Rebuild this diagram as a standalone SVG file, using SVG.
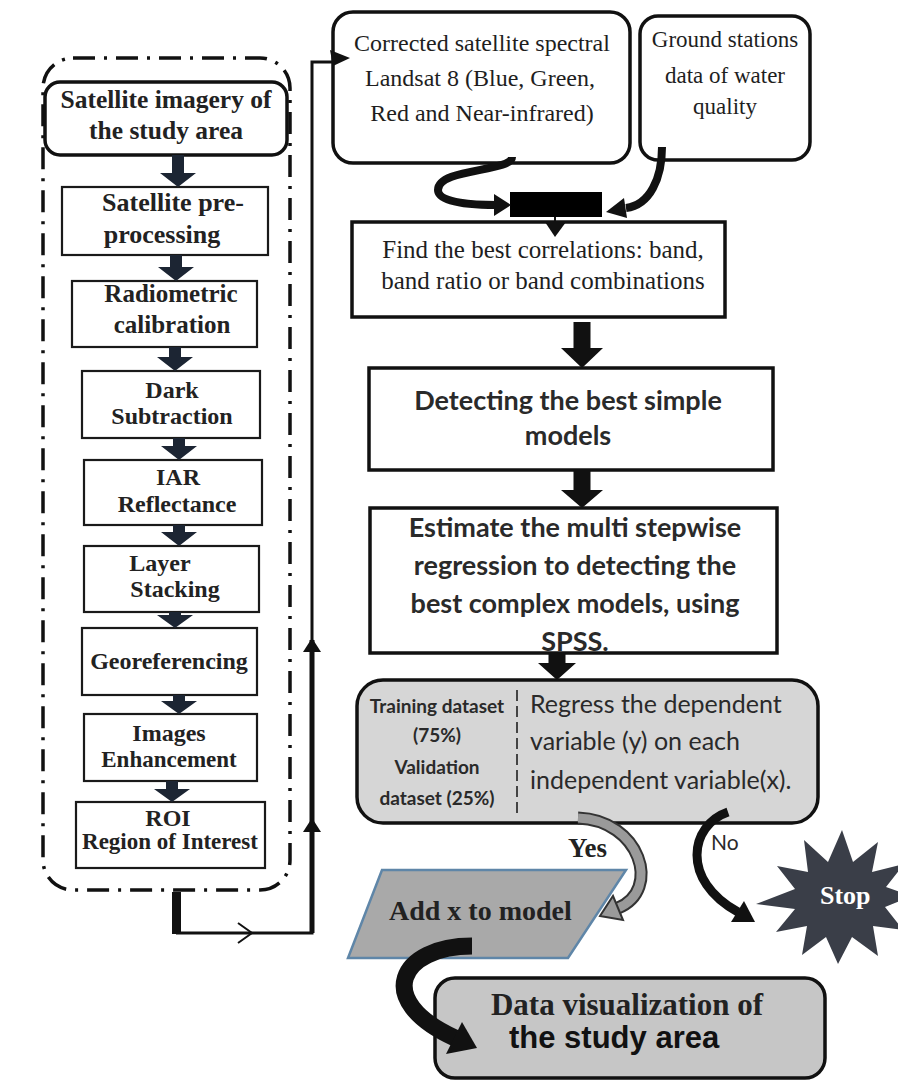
<svg xmlns="http://www.w3.org/2000/svg" width="898" height="1081" viewBox="0 0 898 1081">
<style>
.serif{font-family:"Liberation Serif","Times New Roman",serif;fill:#1e1e1e}
.sb{font-family:"Liberation Serif","Times New Roman",serif;font-weight:bold;fill:#222}
.cal{font-family:Lato,"Open Sans",sans-serif;fill:#2a2a2a}
.box{fill:#fff;stroke:#1a1a1a;stroke-width:2.2}
.boxt{fill:#fff;stroke:#111;stroke-width:3.5}
.narrow{fill:#1c2533}
.blk{fill:#111}
.thick{fill:none;stroke:#111;stroke-linecap:butt}
</style>
<rect width="898" height="1081" fill="#fff"/>

<g id="container">
<rect x="43" y="58" width="247" height="832" rx="30" fill="none" stroke="#111" stroke-width="3.5" stroke-dasharray="22 9 3 9"/>
</g>

<g id="n-satellite-imagery">
<rect x="45" y="82" width="242" height="73" rx="15" class="boxt"/>
<text class="sb" font-size="25.5" text-anchor="middle" x="166" y="108">Satellite imagery of</text>
<text class="sb" font-size="25.5" text-anchor="middle" x="166" y="139">the study area</text>
</g>
<g id="n-preprocessing">
<rect x="62" y="187" width="206" height="68" class="box"/>
<text class="sb" font-size="26" text-anchor="middle" x="173" y="211">Satellite pre-</text>
<text class="sb" font-size="26" text-anchor="middle" x="162" y="243">processing</text>
</g>
<g id="n-radiometric">
<rect x="72" y="281" width="185" height="66" class="box"/>
<text class="sb" font-size="25" text-anchor="middle" x="171" y="302">Radiometric</text>
<text class="sb" font-size="25" text-anchor="middle" x="172" y="333">calibration</text>
</g>
<g id="n-dark">
<rect x="82" y="371" width="178" height="67" class="box"/>
<text class="sb" font-size="24" text-anchor="middle" x="172" y="398">Dark</text>
<text class="sb" font-size="24" text-anchor="middle" x="172" y="424">Subtraction</text>
</g>
<g id="n-iar">
<rect x="84" y="460" width="178" height="65" class="box"/>
<text class="sb" font-size="24" text-anchor="middle" x="178" y="485">IAR</text>
<text class="sb" font-size="24" text-anchor="middle" x="177" y="512">Reflectance</text>
</g>
<g id="n-layer">
<rect x="84" y="546" width="175" height="66" class="box"/>
<text class="sb" font-size="24" text-anchor="middle" x="160" y="571">Layer</text>
<text class="sb" font-size="24" text-anchor="middle" x="175" y="597">Stacking</text>
</g>
<g id="n-georef">
<rect x="82" y="628" width="175" height="67" class="box"/>
<text class="sb" font-size="24" text-anchor="middle" x="169" y="669">Georeferencing</text>
</g>
<g id="n-enhance">
<rect x="84" y="714" width="173" height="67" class="box"/>
<text class="sb" font-size="24" text-anchor="middle" x="169" y="741">Images</text>
<text class="sb" font-size="23" text-anchor="middle" x="169" y="767">Enhancement</text>
</g>
<g id="n-roi">
<rect x="76" y="802" width="189" height="66" class="box"/>
<text class="sb" font-size="24" text-anchor="middle" x="168" y="826">ROI</text>
<text class="sb" font-size="23" text-anchor="middle" x="170" y="849">Region of Interest</text>
</g>

<g id="n-corrected">
<rect x="333" y="12" width="297" height="151" rx="20" class="boxt"/>
<text class="serif" font-size="24" text-anchor="middle" x="482" y="51">Corrected satellite spectral</text>
<text class="serif" font-size="24" text-anchor="middle" x="480" y="86">Landsat 8 (Blue, Green,</text>
<text class="serif" font-size="24" text-anchor="middle" x="482" y="121">Red and Near-infrared)</text>
</g>
<g id="n-ground">
<rect x="640" y="16" width="170" height="144" rx="18" class="boxt"/>
<text class="serif" font-size="23" text-anchor="middle" x="725" y="47">Ground stations</text>
<text class="serif" font-size="23" text-anchor="middle" x="725" y="83">data of water</text>
<text class="serif" font-size="23" text-anchor="middle" x="725" y="114">quality</text>
</g>
<g id="n-junction">
<rect x="510" y="192" width="92" height="25" fill="#000"/>
</g>
<g id="n-correlations">
<rect x="352" y="222" width="373" height="95" class="boxt"/>
<text class="serif" font-size="25" text-anchor="middle" x="543" y="258">Find the best correlations: band,</text>
<text class="serif" font-size="25" text-anchor="middle" x="543" y="289">band ratio or band combinations</text>
</g>
<g id="n-simple">
<rect x="369" y="368" width="404" height="102" class="boxt"/>
<text class="cal" font-weight="bold" font-size="27" text-anchor="middle" x="568" y="410">Detecting the best simple</text>
<text class="cal" font-weight="bold" font-size="27" text-anchor="middle" x="568" y="445">models</text>
</g>
<g id="n-stepwise">
<rect x="370" y="508" width="407" height="145" class="boxt"/>
<text class="cal" font-weight="bold" font-size="27" text-anchor="middle" x="575" y="537">Estimate the multi stepwise</text>
<text class="cal" font-weight="bold" font-size="27" text-anchor="middle" x="575" y="575">regression to detecting the</text>
<text class="cal" font-weight="bold" font-size="27" text-anchor="middle" x="575" y="613">best complex models, using</text>
<text class="cal" font-weight="bold" font-size="27" text-anchor="middle" x="575" y="651">SPSS.</text>
</g>
<g id="n-regress">
<rect x="357" y="680" width="461" height="143" rx="26" fill="#d6d6d6" stroke="#111" stroke-width="3.5"/>
<line x1="517" y1="690" x2="517" y2="815" stroke="#444" stroke-width="2" stroke-dasharray="11 5"/>
<text class="cal" font-weight="bold" font-size="19" text-anchor="middle" x="437" y="713">Training dataset</text>
<text class="cal" font-weight="bold" font-size="19" text-anchor="middle" x="437" y="742">(75%)</text>
<text class="cal" font-weight="bold" font-size="19" text-anchor="middle" x="437" y="774">Validation</text>
<text class="cal" font-weight="bold" font-size="19" text-anchor="middle" x="437" y="805">dataset (25%)</text>
<text class="cal" font-size="25" x="530" y="713">Regress the dependent</text>
<text class="cal" font-size="25" x="530" y="750">variable (y) on each</text>
<text class="cal" font-size="25" x="530" y="789">independent variable(x).</text>
</g>
<g id="n-addx">
<polygon points="382,870 626,870 568,958 348,958" fill="#a9a9a9" stroke="#5f86a8" stroke-width="2.5"/>
<text class="sb" font-size="28" x="389" y="920">Add x to model</text>
</g>
<g id="n-stop">
<polygon points="912,896 885,907 903,930 873,926 878,956 852,937 838,964 826,937 802,955 807,926 776,932 795,909 756,904 795,889 777,866 808,872 804,840 828,862 842,830 853,862 878,842 872,872 904,864 886,887" fill="#3a3e48"/>
<text font-family="Liberation Serif, serif" font-weight="bold" font-size="26" fill="#fff" x="820" y="904">Stop</text>
</g>
<g id="n-dataviz">
<rect x="435" y="978" width="390" height="100" rx="20" fill="#c6c6c6" stroke="#111" stroke-width="3.5"/>
<text class="sb" font-size="31" text-anchor="middle" x="627" y="1015">Data visualization of</text>
<text font-family="Liberation Sans, Arial, sans-serif" font-weight="bold" font-size="31" fill="#111" x="509" y="1048">the study area</text>
</g>

<g id="connectors">
<path class="narrow" d="M172 155h12v18h12l-18 14l-18-14h12z"/>
<path class="narrow" d="M170 255h12v12h12l-18 14l-18-14h12z"/>
<path class="narrow" d="M169 347h12v10h12l-18 14l-18-14h12z"/>
<path class="narrow" d="M173 438h12v8h12l-18 14l-18-14h12z"/>
<path class="narrow" d="M173 525h12v7h12l-18 14l-18-14h12z"/>
<path class="narrow" d="M169 612h12v3h12l-18 13l-18-13h12z"/>
<path class="narrow" d="M173 695h12v6h12l-18 13l-18-13h12z"/>
<path class="narrow" d="M166 781h12v8h12l-18 13l-18-13h12z"/>

<rect x="172" y="892" width="9" height="42" fill="#111"/>
<polyline points="176,933 312,933 312,62 333,62" fill="none" stroke="#111" stroke-width="3"/>
<line x1="312" y1="933" x2="312" y2="640" stroke="#111" stroke-width="5"/>
<polyline points="238,923 252,933 238,943" fill="none" stroke="#111" stroke-width="2"/>
<polygon points="312,638 303,652 321,652" fill="#111"/>
<polygon points="312,818 303,832 321,832" fill="#111"/>
<polygon points="350,58 330,50 333,66" fill="#111"/>

<path class="thick" stroke-width="8" d="M512 157 C512 172 438 168 438 190 C438 204 478 205 496 205"/>
<polygon class="blk" points="511,205 494,194 494,216"/>
<path class="thick" stroke-width="8" d="M662 147 C662 178 650 205 626 208"/>
<polygon class="blk" points="606,212 624,198 627,218"/>
<line x1="555" y1="217" x2="555" y2="224" stroke="#111" stroke-width="2"/>
<polygon class="blk" points="545,222 566,222 555,237"/>

<path class="blk" d="M573.5 322h17v26h12.5l-21 20l-21-20h12.5z"/>
<path class="blk" d="M573.5 470h17v20h12.5l-21 18l-21-18h12.5z"/>
<path class="blk" d="M548.5 653h17v10h10.5l-19 17l-19-17h10.5z"/>

<path d="M578 818 C640 820 662 890 618 908" fill="none" stroke="#333" stroke-width="13"/>
<path d="M578 818 C640 820 662 890 618 908" fill="none" stroke="#9a9a9a" stroke-width="9"/>
<polygon points="600,916 623,920 613,896" fill="#9a9a9a" stroke="#333" stroke-width="2"/>
<path class="thick" stroke-width="9" d="M728 812 C690 825 680 880 738 912"/>
<polygon class="blk" points="755,922 731,922 744,901"/>

<path class="thick" stroke-width="17" d="M472 946 C400 946 372 1000 455 1038"/>
<polygon class="blk" points="477,1048 446,1054 462,1022"/>
</g>

<text class="sb" font-size="27" x="568" y="857">Yes</text>
<text class="cal" font-size="21" x="711" y="850">No</text>
</svg>
